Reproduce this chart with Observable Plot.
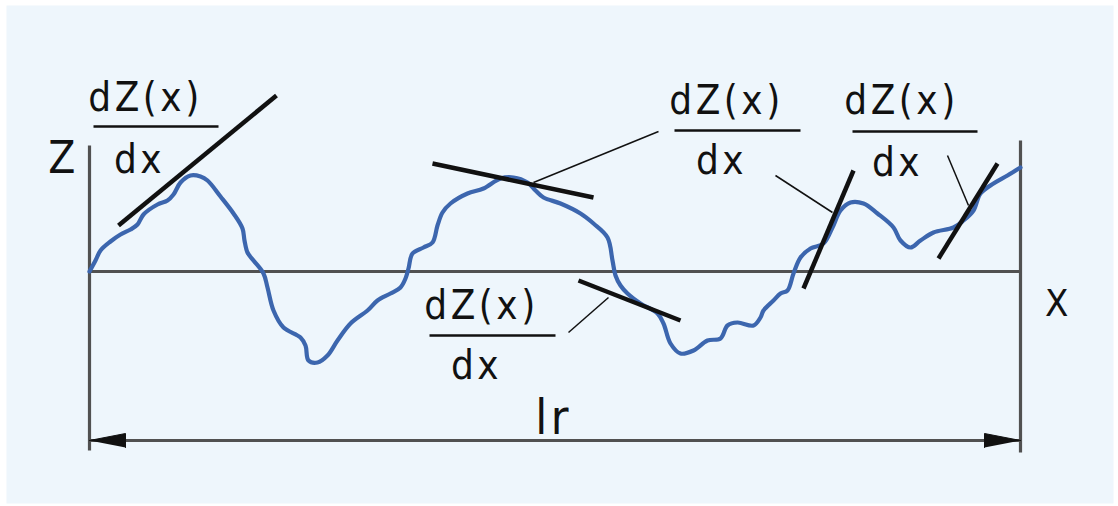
<!DOCTYPE html>
<html>
<head>
<meta charset="utf-8">
<script src="https://cdn.jsdelivr.net/npm/d3@7"></script>
<script src="https://cdn.jsdelivr.net/npm/@observablehq/plot@0.6"></script>
<style>
  html, body { margin: 0; padding: 0; background: #ffffff; }
  #chart svg { display: block; }
</style>
</head>
<body>
<div id="chart"></div>
<script>
// Surface profile Z(x) along the sampling length lr (x and Z in drawing units)
const profileX = [0, 6, 11, 21, 31, 41, 48, 54, 68, 78, 84, 91, 101, 111, 118, 131, 144, 153, 155, 158,
  164, 174, 178, 184, 194, 211, 216, 219, 228, 238, 248, 261, 278, 288, 301, 311, 316, 319, 323, 334,
  343, 348, 353, 361, 378, 394, 411, 424, 438, 446, 454, 471, 491, 504, 518, 523, 526, 531, 538, 551,
  568, 574, 581, 591, 604, 618, 631, 638, 648, 664, 671, 674, 684, 691, 698, 704, 711, 721, 734, 743,
  751, 761, 774, 788, 804, 811, 821, 831, 844, 864, 874, 884, 891, 904, 918, 931];
const profileZ = [0, 11, 21, 30, 37, 42, 47, 57, 67, 71, 77, 89, 96, 95, 91, 75, 58, 43, 31, 19,
  11, -2, -16, -39, -56, -66, -74, -89, -91, -84, -69, -52, -39, -29, -22, -16, -7, 3, 18, 24,
  29, 46, 59, 68, 78, 83, 93, 94, 89, 81, 74, 68, 58, 48, 34, 11, -4, -14, -22, -32,
  -42, -52, -72, -82, -79, -69, -67, -54, -51, -54, -46, -39, -29, -22, -19, -2, 14, 23, 28, 44,
  61, 69, 68, 58, 44, 31, 24, 31, 39, 44, 51, 61, 78, 88, 96, 104];

// Sampling length lr and the frame of the profile
const lrStart = 0;
const lrEnd = 931;
const leftAxisZ = [126, -179];
const rightAxisZ = [131, -181];
const lrArrowZ = -169;

// Local slopes dZ(x)/dx: tangent segments (start and end points)
const tangentX1 = [29, 343, 489, 714, 849];
const tangentZ1 = [46, 108, -9, -17, 13];
const tangentX2 = [187, 504, 591, 764, 908];
const tangentZ2 = [176, 74, -49, 101, 108];

// Leader lines from the slope labels to their tangents
const leaderX1 = [569, 479, 686, 858];
const leaderZ1 = [140, -61, 96, 116];
const leaderX2 = [444, 519, 743, 879];
const leaderZ2 = [89, -26, 59, 66];

// Slope labels written as fractions dZ(x) / dx
const numeratorText = "dZ(x)";
const denominatorText = "dx";
const barX1 = [4, 585, 763, 340];
const barX2 = [129, 711, 888, 466];
const barZ = [145, 141, 140, -64];
const numX = [56, 637, 812, 392];
const numZ = [161, 158, 158, -47];
const denX = [50, 632, 808, 387];
const denZ = [99, 98, 96, -107];

// Axis names
const axisLabels = ["Z", "X", "lr"];
const axisLabelX = [-26, 969, 464];
const axisLabelZ = [99, -44, -162];
const axisLabelSize = [44, 38, 48];

// Tables built from the arrays above
const profile = profileX.map((x, i) => ({x, z: profileZ[i]}));
const tangents = tangentX1.map((x1, i) => ({x1, z1: tangentZ1[i], x2: tangentX2[i], z2: tangentZ2[i]}));
const leaders = leaderX1.map((x1, i) => ({x1, z1: leaderZ1[i], x2: leaderX2[i], z2: leaderZ2[i]}));
const bars = barX1.map((x1, i) => ({x1, x2: barX2[i], z: barZ[i]}));
const numerators = numX.map((x, i) => ({x, z: numZ[i], text: numeratorText}));
const denominators = denX.map((x, i) => ({x, z: denZ[i], text: denominatorText}));
const labels = axisLabels.map((text, i) => ({text, x: axisLabelX[i], z: axisLabelZ[i], size: axisLabelSize[i]}));
const frameLines = [
  {x1: lrStart, z1: leftAxisZ[0], x2: lrStart, z2: leftAxisZ[1]},
  {x1: lrEnd, z1: rightAxisZ[0], x2: lrEnd, z2: rightAxisZ[1]},
  {x1: lrStart, z1: 0, x2: lrEnd, z2: 0},
  {x1: lrStart, z1: lrArrowZ, x2: lrEnd, z2: lrArrowZ}
];

// Filled arrowheads at both ends of the lr dimension line
const headLength = 36;
const headHalf = 7;
const arrowHeads = [
  {id: "start", x: lrStart, z: lrArrowZ},
  {id: "start", x: lrStart + headLength, z: lrArrowZ + headHalf},
  {id: "start", x: lrStart + headLength, z: lrArrowZ - headHalf},
  {id: "end", x: lrEnd, z: lrArrowZ},
  {id: "end", x: lrEnd - headLength, z: lrArrowZ + headHalf},
  {id: "end", x: lrEnd - headLength, z: lrArrowZ - headHalf}
];

const font = "'Liberation Sans Narrow', 'DejaVu Sans Condensed', 'Roboto Condensed', 'Liberation Sans', sans-serif";
const ink = "#111111";
const axisGray = "#515151";
const profileBlue = "#3c66ae";

const chart = Plot.plot({
  width: 1118,
  height: 506,
  margin: 0,
  x: {domain: [-89, 1029], axis: null},
  y: {domain: [-235, 271], axis: null},
  style: {background: "#ffffff", fontFamily: font, color: ink, letterSpacing: "3.5px"},
  marks: [
    Plot.frame({fill: "#eef6fc", stroke: "none", insetLeft: 6, insetTop: 5, insetRight: 5, insetBottom: 3}),
    Plot.link(frameLines, {x1: "x1", y1: "z1", x2: "x2", y2: "z2", stroke: axisGray, strokeWidth: 3.2}),
    Plot.line(arrowHeads, {x: "x", y: "z", z: "id", fill: ink, stroke: ink, strokeWidth: 1}),
    Plot.line(profile, {x: "x", y: "z", stroke: profileBlue, strokeWidth: 4.2, curve: "catmull-rom", strokeLinejoin: "round", strokeLinecap: "round"}),
    Plot.link(tangents, {x1: "x1", y1: "z1", x2: "x2", y2: "z2", stroke: ink, strokeWidth: 4.5}),
    Plot.link(leaders, {x1: "x1", y1: "z1", x2: "x2", y2: "z2", stroke: ink, strokeWidth: 1.5}),
    Plot.link(bars, {x1: "x1", y1: "z", x2: "x2", y2: "z", stroke: ink, strokeWidth: 2.6}),
    Plot.text(numerators, {x: "x", y: "z", text: "text", fontSize: 40, lineAnchor: "bottom", fill: ink}),
    Plot.text(denominators, {x: "x", y: "z", text: "text", fontSize: 40, lineAnchor: "bottom", fill: ink}),
    Plot.text(labels, {x: "x", y: "z", text: "text", fontSize: (d) => d.size, lineAnchor: "bottom", fill: ink})
  ]
});

document.getElementById("chart").appendChild(chart);
</script>
</body>
</html>
